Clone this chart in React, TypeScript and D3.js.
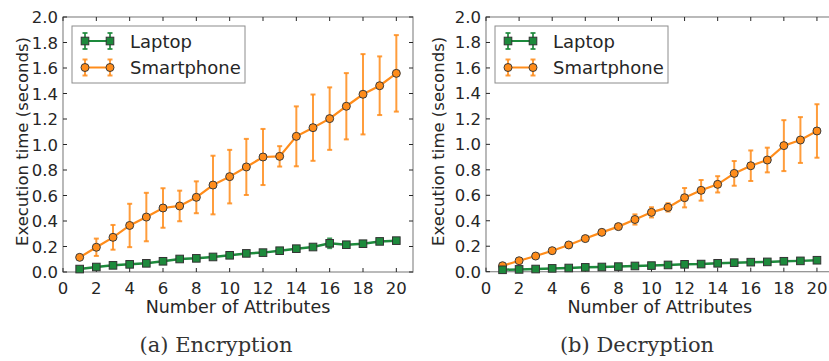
import * as d3 from 'd3';
import React from 'react';

// number of attributes
const attributes = [1, 2, 3, 4, 5, 6, 7, 8, 9, 10, 11, 12, 13, 14, 15, 16, 17, 18, 19, 20];

// (a) encryption
const encLaptop = [0.023, 0.039, 0.052, 0.06, 0.068, 0.084, 0.102, 0.107, 0.118, 0.131, 0.146, 0.152, 0.167, 0.183, 0.196, 0.225, 0.214, 0.222, 0.24, 0.246];
const encLaptopErr = [0.004, 0.005, 0.005, 0.005, 0.006, 0.006, 0.006, 0.006, 0.007, 0.007, 0.008, 0.008, 0.008, 0.015, 0.012, 0.038, 0.01, 0.01, 0.012, 0.008];
const encPhone = [0.115, 0.194, 0.272, 0.365, 0.431, 0.502, 0.518, 0.586, 0.682, 0.748, 0.824, 0.902, 0.907, 1.064, 1.132, 1.203, 1.3, 1.394, 1.461, 1.558];
const encPhoneErr = [0.005, 0.068, 0.097, 0.17, 0.19, 0.155, 0.12, 0.125, 0.23, 0.21, 0.22, 0.22, 0.08, 0.235, 0.26, 0.245, 0.26, 0.315, 0.23, 0.3];

// (b) decryption
const decLaptop = [0.015, 0.018, 0.021, 0.026, 0.029, 0.034, 0.037, 0.04, 0.045, 0.048, 0.053, 0.058, 0.06, 0.066, 0.071, 0.075, 0.077, 0.082, 0.085, 0.09];
const decLaptopErr = [0.003, 0.003, 0.003, 0.003, 0.003, 0.004, 0.004, 0.004, 0.004, 0.004, 0.005, 0.005, 0.005, 0.005, 0.005, 0.006, 0.006, 0.006, 0.006, 0.006];
const decPhone = [0.047, 0.086, 0.123, 0.165, 0.21, 0.26, 0.309, 0.354, 0.41, 0.466, 0.505, 0.581, 0.639, 0.686, 0.772, 0.832, 0.877, 0.99, 1.034, 1.105];
const decPhoneErr = [0.005, 0.006, 0.007, 0.008, 0.009, 0.01, 0.01, 0.02, 0.04, 0.04, 0.033, 0.076, 0.081, 0.064, 0.097, 0.12, 0.097, 0.2, 0.18, 0.21];

const xTicks = [0, 2, 4, 6, 8, 10, 12, 14, 16, 18, 20];
const yTicks = [0, 0.2, 0.4, 0.6, 0.8, 1.0, 1.2, 1.4, 1.6, 1.8, 2.0];
const seriesNames = ['Laptop', 'Smartphone'];

const GREEN = '#1d8a3c';
const ORANGE = '#ff8c1a';
const TEXT = '#262626';
const FONT = 'DejaVu Sans, sans-serif';

type PanelProps = {
  left: number; right: number; top: number; bottom: number;
  laptop: number[]; laptopErr: number[]; phone: number[]; phoneErr: number[];
  caption: string; captionX: number; yLabelX: number;
};

function Panel({ left, right, top, bottom, laptop, laptopErr, phone, phoneErr, caption, captionX, yLabelX }: PanelProps) {
  const x = d3.scaleLinear().domain([0, 21]).range([left, right]);
  const y = d3.scaleLinear().domain([0, 2]).range([bottom, top]);
  const line = d3.line<number>().x((_, i) => x(attributes[i])).y(d => y(d));

  const errBars = (vals: number[], errs: number[], color: string, key: string) =>
    vals.map((v, i) => {
      const cx = x(attributes[i]);
      const y1 = y(v + errs[i]);
      const y2 = y(v - errs[i]);
      return (
        <g key={key + i} stroke={color} strokeWidth={2} strokeOpacity={0.85}>
          <line x1={cx} x2={cx} y1={y1} y2={y2} />
          <line x1={cx - 2.5} x2={cx + 2.5} y1={y1} y2={y1} />
          <line x1={cx - 2.5} x2={cx + 2.5} y1={y2} y2={y2} />
        </g>
      );
    });

  const legX = left + 9;
  const legY = 26;

  return (
    <g>
      {/* axes frame */}
      <rect x={left} y={top} width={right - left} height={bottom - top} fill="none" stroke="#8c8c8c" strokeWidth={1.2} />
      {xTicks.map(t => (
        <g key={'xt' + t}>
          <line x1={x(t)} x2={x(t)} y1={bottom} y2={bottom - 4} stroke={TEXT} />
          <line x1={x(t)} x2={x(t)} y1={top} y2={top + 4} stroke={TEXT} />
          <text x={x(t)} y={bottom + 22} textAnchor="middle" fontSize={16.5} fill={TEXT} fontFamily={FONT}>{t}</text>
        </g>
      ))}
      {yTicks.map(t => (
        <g key={'yt' + t}>
          <line x1={left} x2={left + 4} y1={y(t)} y2={y(t)} stroke={TEXT} />
          <line x1={right} x2={right - 4} y1={y(t)} y2={y(t)} stroke={TEXT} />
          <text x={left - 5} y={y(t) + 6} textAnchor="end" fontSize={16.5} fill={TEXT} fontFamily={FONT}>{t.toFixed(1)}</text>
        </g>
      ))}
      <text x={(left + x(21)) / 2} y={bottom + 41} textAnchor="middle" fontSize={17.5} fill={TEXT} fontFamily={FONT}>Number of Attributes</text>
      <text transform={`translate(${yLabelX},${(top + bottom) / 2 - 3}) rotate(-90)`} textAnchor="middle" fontSize={16.5} fill={TEXT} fontFamily={FONT}>Execution time (seconds)</text>
      <text x={captionX} y={352} textAnchor="middle" fontSize={21} fill="#333" fontFamily="DejaVu Serif, serif">{caption}</text>

      {/* smartphone */}
      {errBars(phone, phoneErr, ORANGE, 'pe')}
      <path d={line(phone) || ''} fill="none" stroke={ORANGE} strokeWidth={2.2} />
      {phone.map((v, i) => (
        <circle key={'pc' + i} cx={x(attributes[i])} cy={y(v)} r={4} fill={ORANGE} stroke="#3a3a3a" strokeWidth={1} />
      ))}

      {/* laptop */}
      {errBars(laptop, laptopErr, GREEN, 'le')}
      <path d={line(laptop) || ''} fill="none" stroke={GREEN} strokeWidth={2.5} />
      {laptop.map((v, i) => (
        <rect key={'lr' + i} x={x(attributes[i]) - 3.8} y={y(v) - 3.8} width={7.6} height={7.6} fill={GREEN} stroke="#333" strokeWidth={1} />
      ))}

      {/* legend */}
      <rect x={legX} y={legY} width={173} height={57} fill="white" stroke="#8c8c8c" strokeWidth={1} />
      {seriesNames.map((name, k) => {
        const cy = legY + 15 + k * 26.5;
        const color = k === 0 ? GREEN : ORANGE;
        return (
          <g key={name}>
            <line x1={legX + 13} x2={legX + 38} y1={cy} y2={cy} stroke={color} strokeWidth={2} />
            {[legX + 13, legX + 38].map(px => (
              <g key={px}>
                <g stroke={color} strokeWidth={2} strokeOpacity={0.85}>
                  <line x1={px} x2={px} y1={cy - 8} y2={cy + 8} />
                  <line x1={px - 2.5} x2={px + 2.5} y1={cy - 8} y2={cy - 8} />
                  <line x1={px - 2.5} x2={px + 2.5} y1={cy + 8} y2={cy + 8} />
                </g>
                {k === 0
                  ? <rect x={px - 3.8} y={cy - 3.8} width={7.6} height={7.6} fill={GREEN} stroke="#333" />
                  : <circle cx={px} cy={cy} r={4} fill={ORANGE} stroke="#3a3a3a" />}
              </g>
            ))}
            <text x={legX + 58} y={cy + 6.5} fontSize={18} fill={TEXT} fontFamily={FONT}>{name}</text>
          </g>
        );
      })}
    </g>
  );
}

export default function App() {
  return (
    <svg width={829} height={361} style={{ position: 'absolute', left: 0, top: 0, background: 'white' }}>
      <Panel left={63} right={413} top={17} bottom={272}
        laptop={encLaptop} laptopErr={encLaptopErr} phone={encPhone} phoneErr={encPhoneErr}
        caption="(a) Encryption" captionX={216} yLabelX={28} />
      <Panel left={486} right={833.5} top={17} bottom={271.7}
        laptop={decLaptop} laptopErr={decLaptopErr} phone={decPhone} phoneErr={decPhoneErr}
        caption="(b) Decryption" captionX={637} yLabelX={444} />
    </svg>
  );
}
